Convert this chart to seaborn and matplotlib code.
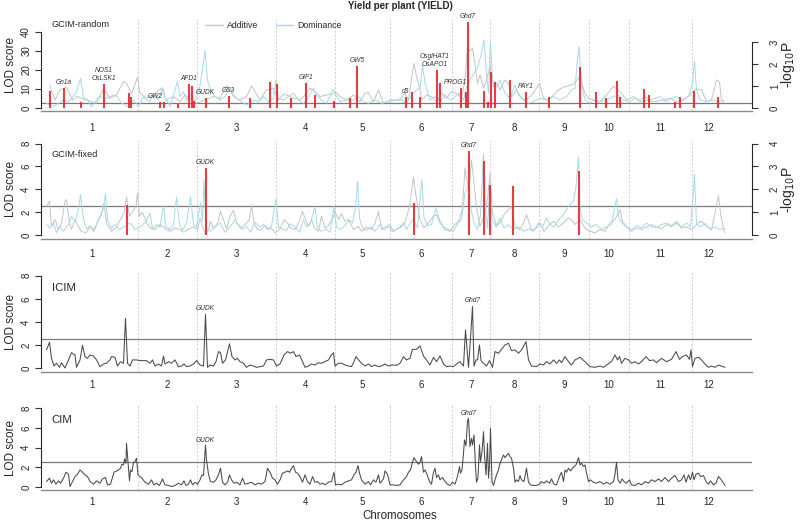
import numpy as np
import matplotlib
matplotlib.use("Agg")
import matplotlib.pyplot as plt
from matplotlib.lines import Line2D
import seaborn as sns

sns.set_style("ticks")
plt.rcParams["font.family"] = ["Liberation Sans", "DejaVu Sans"]

# rice chromosome lengths (cM), positions below are genome-wide cumulative cM
CHROM_LEN = [186, 118, 158, 118, 110, 124, 76, 98, 100, 80, 126, 66]
CHROM_NAMES = [str(i) for i in range(1, 13)]
THRESHOLD = 2.5

ADD_COL = "#c4c4c4"
DOM_COL = "#a6d9e8"
QTL_COL = "#e8262d"
LINE_COL = "#4a4a4a"

# ---- GCIM-random: additive / dominance LOD profiles
rand_add = [(9, 12.1), (20, 4.2), (30, 9.5), (43, 10.9), (55, 4.2), (65, 6.0), (73, 5.1), (83, 4.2),
            (103, 2.5), (117, 10.0), (130, 5.1), (143, 6.8), (157, 13.9), (163, 13.0), (173, 7.7),
            (185, 16.1), (190, 7.7), (203, 5.1), (217, 6.8), (233, 10.4), (242, 4.2), (257, 6.0),
            (270, 3.3), (280, 6.8), (293, 4.2), (303, 2.5), (337, 6.0), (350, 5.1), (363, 11.6),
            (370, 9.5), (377, 6.0), (390, 4.2), (403, 6.0), (413, 11.6), (420, 8.6), (430, 4.2),
            (443, 9.5), (457, 10.4), (467, 4.2), (477, 7.4), (490, 6.0), (500, 5.1), (510, 4.2),
            (520, 6.8), (530, 10.4), (540, 8.6), (550, 6.0), (563, 6.8), (583, 8.1), (590, 6.0),
            (603, 4.2), (617, 6.8), (630, 3.3), (640, 7.7), (647, 8.1), (657, 3.3), (667, 9.5),
            (677, 2.5), (690, 4.2), (703, 4.2), (710, 4.2), (720, 7.7), (727, 4.2), (738, 23.5),
            (743, 16.5), (749, 11.2), (753, 4.2), (763, 6.8), (773, 6.0), (783, 3.3), (793, 7.7),
            (803, 5.1), (813, 8.6), (823, 7.7), (833, 5.1), (840, 14.7), (845, 32.3), (850, 29.8),
            (855, 31.6), (860, 22.6), (865, 13.0), (870, 17.4), (877, 10.4), (883, 14.7), (890, 21.8),
            (897, 11.2), (905, 13.0), (910, 9.5), (920, 14.7), (927, 13.0), (933, 6.0), (943, 9.5),
            (953, 5.1), (963, 4.2), (973, 6.8), (983, 10.4), (989, 13.0), (997, 5.1), (1007, 4.2),
            (1017, 6.8), (1027, 9.5), (1037, 10.9), (1047, 11.6), (1057, 12.6), (1070, 16.5),
            (1080, 7.7), (1087, 5.1), (1097, 4.2), (1110, 3.3), (1123, 6.8), (1137, 11.6), (1145, 9.5),
            (1153, 7.7), (1163, 4.2), (1177, 6.0), (1190, 3.3), (1203, 4.2), (1217, 3.3), (1237, 4.2),
            (1250, 5.1), (1263, 3.3), (1277, 4.2), (1290, 6.8), (1300, 9.8), (1307, 9.5), (1313, 9.8),
            (1323, 3.3), (1333, 4.2), (1343, 14.7), (1349, 13.7), (1353, 4.2), (1360, 2.5)]

rand_dom = [(3, 2.5), (17, 0.7), (27, 2.5), (37, 4.2), (47, 3.3), (62, 7.7), (71, 15.6), (77, 6.0),
            (85, 4.2), (93, 0.7), (105, 5.1), (110, 6.0), (123, 5.1), (137, 6.8), (145, 6.0), (153, 2.5),
            (167, 0.7), (177, 4.2), (187, 0.7), (197, 6.0), (209, 3.3), (218, 7.7), (227, 4.2),
            (235, 10.9), (240, 6.0), (250, 0.7), (265, 13.9), (270, 6.0), (277, 8.6), (283, 4.2),
            (293, 7.7), (300, 3.3), (309, 10.4), (315, 20.0), (320, 30.5), (325, 14.6), (330, 10.4),
            (340, 6.0), (350, 4.2), (360, 6.0), (370, 10.4), (377, 6.8), (387, 4.2), (403, 1.6),
            (417, 4.2), (427, 3.3), (437, 6.0), (447, 3.3), (457, 5.1), (462, 14.7), (467, 5.1),
            (477, 4.2), (487, 6.0), (497, 7.7), (507, 4.2), (517, 2.5), (523, 4.2), (537, 10.4),
            (543, 6.8), (553, 4.2), (563, 2.5), (577, 9.8), (582, 6.8), (590, 3.3), (603, 4.2),
            (617, 4.2), (627, 6.0), (637, 3.3), (647, 2.5), (660, 4.2), (673, 2.5), (687, 3.3),
            (703, 4.2), (713, 4.2), (723, 2.5), (733, 6.8), (743, 9.5), (750, 10.4), (755, 22.6),
            (760, 13.0), (770, 4.2), (780, 6.0), (790, 3.3), (800, 6.8), (810, 4.2), (818, 5.1),
            (827, 7.7), (837, 4.2), (843, 10.9), (850, 14.7), (858, 18.2), (865, 21.0), (873, 28.8),
            (878, 35.8), (882, 21.8), (887, 7.7), (891, 34.9), (895, 14.7), (903, 10.9), (910, 14.7),
            (920, 7.7), (930, 5.1), (940, 12.1), (947, 6.8), (957, 4.2), (967, 2.5), (977, 3.3),
            (990, 5.1), (1003, 4.2), (1017, 6.0), (1030, 4.2), (1043, 6.0), (1053, 9.5), (1060, 10.4),
            (1065, 25.3), (1068, 32.3), (1073, 13.0), (1080, 4.2), (1090, 2.5), (1097, 4.2),
            (1110, 3.3), (1123, 4.2), (1137, 6.0), (1147, 6.8), (1157, 4.2), (1170, 3.3), (1180, 5.1),
            (1190, 4.2), (1200, 6.0), (1210, 4.2), (1220, 5.1), (1230, 6.0), (1243, 3.3), (1253, 5.1),
            (1263, 6.0), (1273, 4.2), (1287, 6.0), (1295, 13.0), (1299, 24.4), (1303, 9.5),
            (1310, 4.2), (1323, 3.3), (1337, 4.2), (1347, 3.3), (1357, 4.2)]

# GCIM-random QTL (-log10 P)
rand_qtl = [(10, 0.78), (38, 0.92), (71, 0.29), (117, 1.08), (167, 0.67), (171, 0.51), (230, 0.26),
            (238, 0.26), (265, 0.17), (288, 1.08), (293, 0.98), (297, 0.32), (321, 0.47), (367, 0.53),
            (410, 0.44), (449, 1.17), (463, 1.09), (491, 0.44), (522, 1.15), (540, 0.59), (577, 0.32),
            (609, 0.47), (624, 1.91), (721, 0.51), (733, 0.71), (750, 0.50), (783, 1.73), (789, 1.12),
            (832, 0.89), (841, 0.71), (845, 3.90), (878, 0.77), (885, 0.26), (891, 1.62), (900, 1.20),
            (930, 1.27), (961, 0.74), (1007, 0.51), (1069, 1.88), (1102, 0.71), (1122, 0.47),
            (1143, 1.23), (1149, 0.50), (1197, 0.86), (1207, 0.59), (1260, 0.26), (1269, 0.49),
            (1297, 0.77), (1345, 0.52)]

# known genes: name, label position (cM), height of its QTL bar
rand_genes = [("Gn1a", 38, 0.92), ("NOS1\nOsLSK1", 117, 1.08), ("GW2", 220, 0.26), ("AFD1", 288, 1.08),
              ("GUDK", 321, 0.47), ("GS3", 367, 0.53), ("GIF1", 522, 1.15), ("GW5", 624, 1.91),
              ("d3", 720, 0.51), ("OsglHAT1\nOsAPO1", 780, 1.73), ("PROG1", 820, 0.89),
              ("Ghd7", 845, 3.90), ("PAY1", 961, 0.74)]

# ---- GCIM-fixed
fixed_add = [(3, 2.51), (9, 2.95), (13, 0.76), (20, 1.34), (27, 0.47), (33, 1.05), (40, 2.95), (43, 3.10),
             (49, 1.05), (53, 0.47), (60, 1.34), (67, 0.70), (73, 0.32), (82, 0.18), (90, 0.70), (98, 0.32),
             (107, 1.34), (113, 1.78), (118, 2.80), (123, 1.05), (133, 0.32), (143, 0.70), (151, 1.34),
             (158, 1.93), (163, 3.33), (169, 1.64), (175, 2.07), (182, 2.51), (185, 3.68), (189, 1.64),
             (195, 1.99), (203, 1.05), (211, 0.61), (220, 0.47), (229, 0.91), (237, 0.70), (243, 0.47),
             (251, 0.32), (260, 0.61), (270, 0.47), (278, 0.23), (287, 0.53), (297, 0.70), (305, 0.47),
             (310, 1.49), (314, 0.91), (321, 0.03), (327, 0.47), (331, 1.20), (337, 0.53), (345, 1.05),
             (351, 2.07), (357, 1.34), (363, 0.53), (370, 1.64), (377, 2.16), (383, 1.05), (391, 0.61),
             (400, 0.91), (409, 1.34), (413, 2.66), (418, 1.05), (425, 0.47), (431, 0.41), (440, 0.82),
             (447, 0.47), (453, 0.61), (460, 0.18), (470, 0.53), (478, 1.34), (485, 1.05), (491, 0.61),
             (500, 0.47), (507, 1.05), (515, 2.07), (520, 1.49), (527, 0.76), (533, 1.34), (540, 0.53),
             (547, 0.32), (553, 1.64), (560, 0.61), (567, 0.82), (577, 1.58), (580, 2.07), (587, 1.34),
             (593, 1.87), (600, 1.20), (607, 1.34), (617, 0.47), (627, 0.76), (633, 0.32), (643, 0.70),
             (653, 0.47), (660, 1.05), (667, 2.07), (673, 0.47), (683, 0.76), (690, 0.91), (697, 0.32),
             (707, 0.61), (710, 0.61), (720, 1.05), (729, 2.51), (737, 5.08), (743, 3.10), (750, 1.34),
             (758, 0.61), (767, 1.05), (777, 1.64), (783, 1.78), (790, 1.05), (800, 0.47), (810, 0.32),
             (820, 0.91), (829, 1.34), (835, 2.36), (840, 5.87), (843, 4.99), (848, 3.82), (853, 6.54),
             (858, 4.55), (863, 2.36), (870, 0.76), (878, 1.64), (885, 3.10), (890, 5.43), (895, 1.93),
             (903, 0.82), (910, 1.05), (918, 1.78), (927, 2.22), (933, 2.51), (940, 0.70), (949, 0.47),
             (957, 1.05), (963, 1.78), (973, 0.41), (983, 0.61), (990, 1.05), (998, 0.32), (1007, 0.82),
             (1017, 1.20), (1027, 0.70), (1037, 1.05), (1047, 1.49), (1053, 1.34), (1060, 0.91),
             (1070, 1.34), (1080, 0.61), (1090, 0.32), (1100, 0.18), (1110, 0.47), (1120, 0.32),
             (1130, 1.05), (1140, 1.34), (1150, 2.22), (1155, 1.20), (1163, 0.70), (1173, 0.47),
             (1183, 0.61), (1193, 0.47), (1203, 0.70), (1213, 0.91), (1223, 0.70), (1233, 0.53),
             (1243, 0.91), (1253, 0.70), (1263, 1.05), (1273, 0.61), (1283, 0.70), (1293, 0.47),
             (1303, 0.91), (1310, 1.20), (1317, 1.05), (1325, 0.70), (1333, 0.47), (1342, 2.36),
             (1347, 3.45), (1351, 1.93), (1357, 0.53), (1360, 0.18)]

fixed_dom = [(3, 0.91), (10, 0.61), (17, 1.05), (23, 0.18), (30, 0.70), (37, 0.32), (47, 0.91), (53, 1.64),
             (60, 1.20), (67, 2.22), (71, 3.53), (77, 1.34), (83, 0.53), (90, 0.82), (97, 0.41), (103, 0.91),
             (110, 1.64), (117, 2.36), (121, 3.62), (125, 1.34), (133, 0.61), (140, 0.91), (149, 0.47),
             (157, 0.70), (170, 1.05), (180, 0.47), (190, 0.70), (202, 1.20), (210, 1.93), (215, 0.53),
             (223, 0.91), (230, 0.70), (237, 2.57), (242, 0.70), (250, 0.47), (257, 0.91), (263, 3.33),
             (269, 0.91), (275, 0.41), (283, 1.05), (291, 3.33), (297, 0.91), (303, 0.70), (311, 2.80),
             (315, 1.20), (318, 4.79), (322, 0.61), (330, 0.32), (340, 0.70), (350, 1.05), (360, 0.23),
             (370, 0.70), (380, 1.34), (387, 0.91), (395, 0.47), (403, 0.76), (411, 0.23), (420, 1.11),
             (429, 0.70), (437, 0.91), (445, 0.47), (453, 0.76), (462, 3.15), (467, 0.70), (475, 0.53),
             (483, 0.41), (491, 0.99), (500, 0.70), (509, 0.23), (517, 1.34), (523, 0.70), (531, 1.05),
             (540, 2.51), (545, 0.61), (553, 0.32), (562, 0.53), (570, 0.23), (578, 2.51), (583, 0.70),
             (591, 0.47), (600, 0.82), (609, 1.34), (615, 1.05), (621, 2.36), (625, 4.70), (629, 1.49),
             (635, 0.61), (643, 0.41), (651, 0.70), (660, 0.32), (670, 0.91), (678, 0.47), (687, 0.70),
             (695, 0.32), (705, 0.53), (710, 0.70), (717, 1.05), (723, 0.47), (730, 1.05), (737, 1.34),
             (745, 0.61), (751, 3.68), (754, 4.85), (758, 1.49), (765, 0.82), (773, 0.91), (782, 2.36),
             (789, 1.34), (797, 0.70), (807, 0.47), (817, 0.32), (825, 0.99), (833, 1.34), (840, 3.68),
             (847, 4.26), (851, 2.51), (858, 1.05), (865, 0.47), (871, 1.78), (877, 7.12), (881, 2.22),
             (885, 0.61), (890, 4.61), (894, 1.34), (902, 0.70), (910, 1.49), (918, 0.61), (927, 0.91),
             (937, 0.47), (947, 0.70), (957, 0.32), (967, 0.53), (977, 0.32), (987, 1.05), (995, 0.70),
             (1003, 1.49), (1010, 0.91), (1018, 0.70), (1027, 1.34), (1035, 1.64), (1043, 2.22),
             (1050, 2.66), (1057, 2.95), (1062, 4.26), (1067, 6.83), (1070, 2.51), (1075, 1.34),
             (1083, 1.05), (1093, 0.70), (1103, 0.91), (1113, 0.47), (1123, 0.70), (1133, 0.91),
             (1143, 3.20), (1147, 1.64), (1155, 0.99), (1163, 0.70), (1173, 0.32), (1183, 0.82),
             (1193, 0.61), (1203, 1.05), (1213, 0.70), (1223, 0.61), (1233, 0.91), (1243, 1.05),
             (1253, 0.82), (1263, 1.20), (1273, 0.70), (1283, 1.05), (1291, 0.70), (1297, 3.91),
             (1299, 5.28), (1303, 1.05), (1310, 0.70), (1320, 0.99), (1330, 0.53), (1340, 0.70),
             (1350, 0.47), (1360, 0.61)]

fixed_qtl = [(163, 1.33), (321, 2.93), (737, 1.40), (848, 3.69), (878, 3.23), (890, 2.20), (935, 2.13),
             (1068, 2.79)]
fixed_genes = [("GUDK", 321, 2.93), ("Ghd7", 848, 3.69)]

# ---- ICIM
icim = [(3, 1.57), (9, 2.23), (13, 0.84), (18, 0.17), (23, 0.41), (29, 0.06), (33, 0.46), (40, 0.0),
        (47, 0.70), (53, 1.33), (60, 1.13), (63, 0.06), (70, 0.70), (75, 1.97), (80, 0.99), (85, 0.84),
        (90, 1.13), (97, 1.04), (103, 0.70), (110, 0.12), (117, 0.35), (123, 0.41), (130, 0.70),
        (133, 0.99), (140, 0.93), (145, 0.17), (151, 0.55), (157, 0.41), (161, 4.32), (165, 0.41),
        (170, 0.17), (175, 0.70), (183, 0.70), (190, 0.64), (203, 0.64), (210, 0.41), (215, 0.70),
        (220, 0.17), (227, 0.35), (233, 0.17), (237, 1.04), (240, 0.35), (247, 0.55), (253, 0.41),
        (260, 0.70), (267, 0.12), (273, 0.17), (278, 0.35), (283, 0.12), (290, 0.17), (297, 0.35),
        (303, 0.64), (310, 0.26), (317, 0.17), (321, 4.64), (325, 0.06), (330, 0.26), (337, 0.17),
        (342, 0.55), (347, 1.42), (351, 1.33), (355, 0.41), (361, 0.70), (369, 2.09), (374, 0.99),
        (380, 0.70), (385, 0.84), (390, 0.55), (397, 0.41), (403, 0.06), (410, 0.26), (417, 0.17),
        (423, 0.06), (430, 0.12), (437, 0.17), (443, 0.70), (450, 0.75), (457, 0.70), (463, 0.17),
        (470, 0.35), (478, 1.13), (485, 1.42), (491, 1.28), (497, 1.42), (502, 0.99), (509, 1.13),
        (513, 0.75), (520, 0.06), (527, 0.17), (533, 0.35), (540, 0.26), (547, 0.46), (553, 0.41),
        (560, 0.55), (567, 0.70), (573, 1.13), (577, 1.33), (580, 0.17), (587, 0.41), (593, 0.41),
        (600, 0.26), (607, 0.17), (613, 0.12), (618, 0.55), (622, 0.99), (627, 0.70), (633, 0.41),
        (640, 0.17), (647, 0.35), (653, 0.12), (660, 0.26), (667, 0.12), (673, 0.17), (680, 0.35),
        (687, 0.17), (693, 0.26), (703, 0.23), (710, 0.41), (717, 0.99), (723, 0.70), (730, 0.84),
        (735, 1.62), (743, 1.62), (750, 1.91), (757, 1.04), (763, 0.70), (770, 0.26), (777, 0.93),
        (783, 0.55), (790, 1.04), (797, 0.35), (803, 0.12), (810, 0.17), (817, 0.12), (823, 0.35),
        (830, 0.55), (837, 0.17), (841, 3.30), (847, 0.06), (851, 2.55), (855, 5.33), (858, 0.17),
        (862, 0.70), (865, 0.70), (869, 2.00), (872, 0.64), (877, 0.41), (883, 0.17), (889, 0.64),
        (895, 0.06), (900, 1.42), (907, 1.28), (913, 1.62), (920, 2.00), (927, 2.14), (933, 1.51),
        (940, 1.57), (947, 1.28), (953, 1.57), (962, 2.29), (967, 0.70), (973, 0.17), (983, 0.12),
        (990, 0.35), (997, 0.26), (1003, 0.55), (1010, 0.35), (1017, 0.70), (1023, 0.41), (1029, 0.70),
        (1033, 0.46), (1040, 0.99), (1047, 0.55), (1053, 0.26), (1060, 0.70), (1070, 0.93),
        (1080, 0.55), (1090, 0.12), (1100, 0.06), (1110, 0.17), (1117, 0.06), (1123, 0.26),
        (1133, 0.55), (1140, 1.13), (1145, 0.70), (1149, 0.99), (1153, 0.41), (1160, 0.84),
        (1167, 0.70), (1173, 0.41), (1180, 0.55), (1187, 0.35), (1193, 0.55), (1202, 0.99),
        (1209, 0.64), (1217, 0.70), (1223, 0.46), (1233, 0.84), (1243, 0.55), (1253, 0.75),
        (1262, 1.42), (1269, 0.75), (1275, 0.99), (1283, 1.13), (1289, 0.75), (1292, 1.57),
        (1295, 0.12), (1300, 0.84), (1307, 0.93), (1313, 0.70), (1320, 0.35), (1327, 0.06),
        (1333, 0.17), (1340, 0.06), (1347, 0.26), (1353, 0.17), (1360, 0.06)]
icim_genes = [("GUDK", 321, 4.64), ("Ghd7", 855, 5.33)]

# ---- CIM
cim = [(3, 0.54), (9, 0.88), (13, 0.37), (17, 0.71), (22, 0.27), (27, 0.61), (31, 0.37), (37, 0.88),
       (42, 1.49), (47, 1.28), (50, 0.03), (55, 0.54), (60, 1.05), (65, 1.28), (70, 1.72), (75, 1.49),
       (80, 1.22), (85, 1.05), (90, 0.54), (97, 0.27), (103, 0.61), (110, 0.37), (115, 0.81), (121, 0.95),
       (125, 0.20), (131, 0.27), (138, 1.49), (143, 1.62), (147, 1.72), (151, 1.89), (154, 2.30),
       (157, 2.23), (159, 2.84), (162, 2.40), (163, 4.43), (166, 2.57), (169, 0.61), (171, 1.72),
       (174, 1.55), (177, 2.50), (180, 2.57), (183, 2.91), (186, 1.22), (190, 1.05), (195, 0.81),
       (200, 0.47), (207, 0.27), (213, 0.71), (218, 0.20), (223, 0.37), (229, 0.14), (235, 0.81),
       (240, 0.20), (247, 0.14), (253, 0.03), (260, 0.14), (267, 0.37), (273, 0.20), (278, 0.61),
       (282, 0.14), (287, 0.27), (291, 0.71), (295, 0.20), (300, 0.47), (305, 0.27), (310, 0.71),
       (314, 1.22), (317, 1.15), (321, 4.26), (323, 2.74), (327, 1.28), (331, 0.54), (337, 0.47),
       (342, 0.71), (347, 1.22), (351, 1.89), (355, 0.47), (360, 0.20), (365, 0.47), (369, 1.22),
       (373, 0.71), (378, 0.37), (383, 0.47), (390, 0.20), (395, 0.88), (400, 0.27), (407, 0.37),
       (413, 0.47), (420, 0.20), (427, 0.37), (433, 0.27), (440, 0.54), (445, 1.89), (450, 1.49),
       (455, 0.88), (460, 0.71), (465, 0.27), (470, 0.71), (475, 1.39), (480, 1.49), (485, 1.62),
       (489, 1.49), (493, 1.89), (497, 2.16), (501, 1.49), (505, 1.39), (510, 1.05), (515, 0.47),
       (520, 1.22), (525, 0.54), (530, 0.27), (535, 1.05), (540, 0.47), (545, 0.54), (550, 0.27),
       (555, 0.37), (560, 0.20), (567, 0.47), (573, 0.54), (578, 1.49), (581, 0.20), (587, 0.27),
       (593, 0.20), (600, 0.47), (607, 0.61), (613, 0.71), (618, 1.22), (622, 1.49), (626, 2.16),
       (629, 1.39), (633, 0.71), (640, 0.27), (647, 0.54), (651, 0.20), (657, 0.71), (662, 0.47),
       (667, 1.22), (670, 0.37), (677, 0.81), (680, 1.62), (685, 1.28), (690, 0.20), (697, 0.20),
       (703, 0.14), (710, 0.20), (717, 0.71), (722, 0.95), (727, 1.49), (731, 1.72), (735, 2.50),
       (738, 2.97), (742, 2.64), (747, 2.30), (750, 2.50), (753, 3.07), (757, 1.49), (760, 1.72),
       (763, 1.39), (769, 0.54), (773, 0.27), (777, 1.49), (780, 1.89), (783, 0.95), (787, 1.22),
       (790, 0.71), (795, 0.95), (800, 0.54), (805, 0.27), (810, 0.14), (815, 0.47), (820, 0.27),
       (825, 1.05), (829, 2.06), (831, 1.39), (834, 1.72), (837, 3.41), (839, 4.76), (842, 4.19),
       (845, 6.69), (847, 6.96), (850, 4.09), (853, 4.93), (855, 4.26), (858, 5.27), (861, 2.06),
       (863, 0.47), (866, 0.95), (869, 4.26), (871, 2.57), (874, 3.58), (877, 5.61), (879, 3.24),
       (882, 1.22), (885, 4.43), (887, 0.88), (889, 2.23), (891, 5.95), (894, 0.54), (897, 0.14),
       (899, 0.54), (903, 1.22), (907, 1.72), (910, 2.40), (913, 2.74), (917, 3.24), (920, 2.97),
       (923, 3.17), (927, 3.41), (930, 3.07), (933, 2.91), (937, 1.89), (940, 0.47), (943, 0.71),
       (947, 0.54), (950, 1.15), (953, 0.71), (958, 0.54), (963, 1.89), (967, 0.47), (971, 0.20),
       (977, 0.14), (983, 0.14), (989, 0.27), (993, 0.54), (998, 0.37), (1003, 0.61), (1009, 0.37),
       (1013, 0.81), (1018, 0.27), (1023, 0.20), (1029, 1.05), (1033, 1.49), (1037, 0.54),
       (1040, 1.72), (1043, 1.49), (1047, 1.89), (1051, 1.62), (1055, 1.89), (1058, 2.06),
       (1062, 2.23), (1067, 2.97), (1070, 2.23), (1073, 2.40), (1077, 2.06), (1080, 2.23),
       (1083, 1.39), (1087, 0.54), (1091, 0.71), (1097, 0.47), (1103, 0.37), (1110, 0.54),
       (1117, 0.27), (1123, 0.47), (1130, 0.27), (1137, 0.54), (1140, 1.28), (1143, 2.50),
       (1146, 0.71), (1150, 0.37), (1154, 0.81), (1158, 0.54), (1163, 0.37), (1169, 0.71),
       (1173, 0.20), (1180, 0.14), (1187, 0.37), (1193, 0.20), (1200, 0.54), (1207, 0.37),
       (1213, 0.71), (1220, 0.54), (1227, 0.81), (1233, 0.54), (1240, 0.95), (1247, 0.54),
       (1253, 0.88), (1260, 1.15), (1267, 0.54), (1273, 0.71), (1278, 1.22), (1282, 0.47),
       (1287, 1.22), (1291, 0.71), (1295, 1.49), (1298, 0.71), (1302, 1.28), (1307, 1.39),
       (1311, 1.05), (1317, 1.15), (1322, 0.54), (1327, 0.27), (1331, 0.61), (1337, 0.20),
       (1342, 0.37), (1347, 1.05), (1351, 0.81), (1355, 0.54), (1360, 0.14)]
cim_genes = [("GUDK", 321, 4.26), ("Ghd7", 847, 6.96)]

# chromosome layout
chrom_end = np.cumsum(CHROM_LEN)
chrom_start = chrom_end - np.array(CHROM_LEN)
chrom_mid = (chrom_start + chrom_end) / 2
XLIM = (-8, 1414)

fig = plt.figure(figsize=(8, 5.22), dpi=100)
L, W = 41 / 800, 711 / 800


def panel(top_px, bot_px):
    return fig.add_axes([L, 1 - bot_px / 522, W, (bot_px - top_px) / 522])


def base_axis(ax, ylim, yticks, name, name_y, name_size, xpad):
    ax.set_xlim(*XLIM)
    ax.set_ylim(*ylim)
    for b in chrom_end[:-1]:
        ax.axvline(b, color="#c8c8c8", ls=(0, (2.5, 2)), lw=0.6, zorder=0)
    ax.axhline(THRESHOLD, color="#7a7a7a", lw=0.9, zorder=1)
    ax.set_xticks(chrom_mid)
    ax.set_xticklabels(CHROM_NAMES, fontsize=7)
    ax.tick_params(axis="x", length=0, pad=xpad)
    ax.set_yticks(yticks)
    ax.set_yticklabels([str(t) for t in yticks], rotation=90, va="center", fontsize=7)
    ax.tick_params(axis="y", length=4, width=0.8, pad=3, color="#333333")
    for s in ["top", "right"]:
        ax.spines[s].set_visible(False)
    ax.spines["left"].set_bounds(yticks[0], yticks[-1])
    ax.spines["left"].set_linewidth(0.8)
    ax.spines["bottom"].set_color("#8a8a8a")
    ax.spines["bottom"].set_linewidth(1.0)
    ax.set_xlabel("")
    ax.set_ylabel("LOD score", fontsize=8.5, labelpad=3)
    ax.text(0.015, name_y, name, transform=ax.transAxes, fontsize=name_size, va="center", ha="left")


def right_axis(ax, ylim, yticks):
    ax2 = ax.twinx()
    ax2.set_ylim(*ylim)
    ax2.set_xlim(*XLIM)
    for s in ["top", "left", "bottom"]:
        ax2.spines[s].set_visible(False)
    ax2.spines["right"].set_bounds(yticks[0], yticks[-1])
    ax2.spines["right"].set_linewidth(0.8)
    ax2.set_yticks(yticks)
    ax2.set_yticklabels([str(t) for t in yticks], rotation=90, va="center", fontsize=7)
    ax2.tick_params(axis="y", length=4, width=0.8, pad=9, color="#333333")
    ax2.set_ylabel(r"-log$_{10}$P", fontsize=10, rotation=90, va="center")
    ax2.yaxis.set_label_coords((788 - 41) / 711, 0.5)
    return ax2


def curve(ax, data, color, lw):
    arr = np.array(data)
    sns.lineplot(x=arr[:, 0], y=arr[:, 1], ax=ax, color=color, linewidth=lw,
                 sort=False, estimator=None, legend=False)


def qtl_bars(ax, data):
    arr = np.array(data)
    ax.vlines(arr[:, 0], 0, arr[:, 1], color=QTL_COL, lw=1.5, alpha=0.9, zorder=3)


def gene_labels(ax, genes, dy=2.0):
    for name, x, y in genes:
        ax.annotate(name, (x, y), xytext=(0, dy), textcoords="offset points",
                    ha="center", va="bottom", fontsize=4.8, style="italic",
                    color="#333333", linespacing=1.25)


# ---- panel 1: GCIM-random
ax1 = panel(19, 111.4)
curve(ax1, rand_add, ADD_COL, 0.7)
curve(ax1, rand_dom, DOM_COL, 0.7)
base_axis(ax1, (-1.8, 46.8), [0, 10, 20, 30, 40], "GCIM-random", 0.945, 6.6, 8.3)
handles = [Line2D([], [], color=ADD_COL, lw=1.0), Line2D([], [], color=DOM_COL, lw=1.0)]
ax1.legend(handles, ["Additive", "Dominance"], loc="center left", bbox_to_anchor=(0.231, 0.925),
           ncol=2, frameon=False, fontsize=6.3, handlelength=2.0, columnspacing=2.0,
           handletextpad=0.5, borderaxespad=0, borderpad=0)
ax1b = right_axis(ax1, (-1.8 / 11.56, 46.8 / 11.56), [0, 1, 2, 3])
qtl_bars(ax1b, rand_qtl)
gene_labels(ax1b, rand_genes, 1.5)

# ---- panel 2: GCIM-fixed
ax2 = panel(140, 238.6)
curve(ax2, fixed_add, ADD_COL, 0.7)
curve(ax2, fixed_dom, DOM_COL, 0.7)
base_axis(ax2, (-0.32, 8.32), [0, 2, 4, 6, 8], "GCIM-fixed", 0.848, 6.6, 7.5)
ax2b = right_axis(ax2, (-0.16, 4.16), [0, 1, 2, 3, 4])
qtl_bars(ax2b, fixed_qtl)
gene_labels(ax2b, fixed_genes, 1.5)

# ---- panel 3: ICIM
ax3 = panel(272, 371.7)
curve(ax3, icim, LINE_COL, 0.75)
base_axis(ax3, (-0.32, 8.32), [0, 2, 4, 6, 8], "ICIM", 0.84, 8.2, 6.2)
gene_labels(ax3, icim_genes, 2.0)

# ---- panel 4: CIM
ax4 = panel(405, 490)
curve(ax4, cim, LINE_COL, 0.75)
base_axis(ax4, (-0.32, 8.32), [0, 2, 4, 6, 8], "CIM", 0.82, 8.2, 4.7)
gene_labels(ax4, cim_genes, 1.0)

fig.text(0.5, 1 - 6 / 522, "Yield per plant (YIELD)", ha="center", va="center",
         fontsize=7, fontweight="bold")
fig.text(0.5, 1 - 516 / 522, "Chromosomes", ha="center", va="center", fontsize=8.3)

fig.savefig("out.png", dpi=100)
